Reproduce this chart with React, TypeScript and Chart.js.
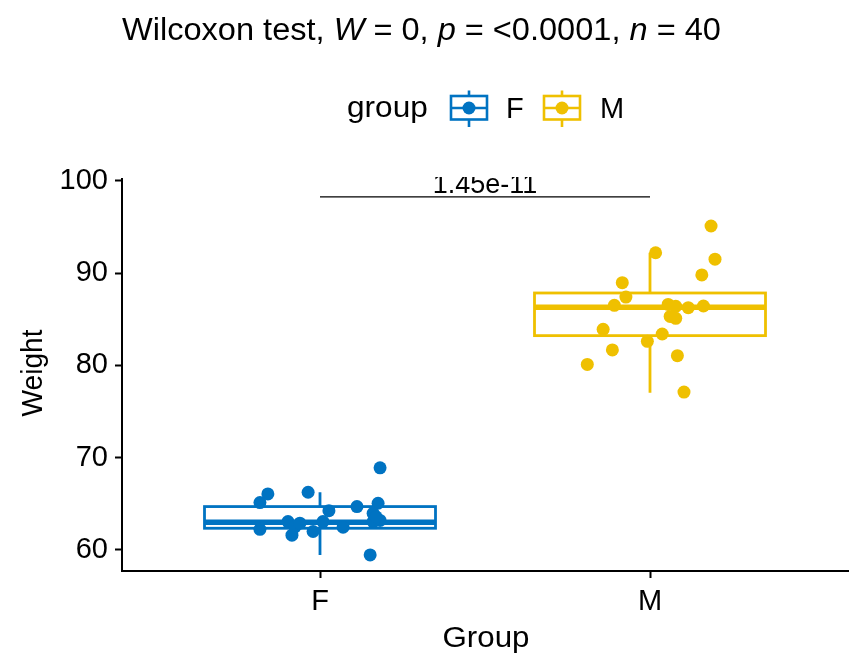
import React, { useEffect, useRef } from "react";
import { Chart, registerables } from "chart.js";
Chart.register(...registerables);

const FONT = '"Liberation Sans", Arial, Helvetica, sans-serif';

const categories = ["F", "M"];
const groupColors = ["#0073C2", "#EFC000"];

const fWeights = [66.07, 65.13, 66.25, 68.9, 64.26, 64.7, 65.06, 63.97, 63.2, 63.07, 63.07, 62.24, 61.6, 62.5, 62.0, 63.07, 62.46, 59.46, 62.9, 63.6];
const fJitter = [-0.158, -0.182, -0.036, 0.182, 0.027, 0.112, 0.176, 0.161, 0.182, 0.161, -0.097, -0.182, -0.085, -0.076, -0.021, 0.009, 0.07, 0.152, -0.061, 0.17];
const mWeights = [95.1, 92.2, 91.5, 89.8, 88.96, 87.4, 86.5, 86.6, 86.4, 86.25, 86.43, 85.3, 85.1, 83.9, 83.4, 82.6, 81.67, 81.05, 80.1, 77.1];
const mJitter = [0.185, 0.017, 0.197, 0.157, -0.084, -0.073, -0.108, 0.055, 0.078, 0.116, 0.162, 0.061, 0.078, -0.142, 0.037, -0.008, -0.114, 0.083, -0.19, 0.103];

const boxLowerWhisker = [59.46, 77.04];
const boxQ1 = [62.35, 83.22];
const boxMedian = [63.0, 86.3];
const boxQ3 = [64.7, 87.84];
const boxUpperWhisker = [66.25, 92.2];

const yTicks = [60, 70, 80, 90, 100];
const yMin = 57.72;
const yMax = 100.19;
const pLabel = "1.45e-11";
const bracketY = 98.25;
const titleParts: [string, boolean][] = [
  ["Wilcoxon test, ", false],
  ["W", true],
  [" = 0, ", false],
  ["p", true],
  [" = <0.0001, ", false],
  ["n", true],
  [" = 40", false],
];
const legendTitle = "group";
const xTitle = "Group";
const yTitle = "Weight";

function stretchedText(ctx: any, s: string, x: number, y: number, sx: number, align: "left" | "center") {
  ctx.save();
  ctx.translate(x, y);
  ctx.scale(sx, 1);
  ctx.textAlign = align;
  ctx.fillText(s, 0, 0);
  ctx.restore();
}

const overlayPlugin = {
  id: "overlay",
  beforeDatasetsDraw(chart: any) {
    const { ctx, scales } = chart;
    const x = scales.x, y = scales.y;
    categories.forEach((_c, i) => {
      const cx = x.getPixelForValue(i + 1);
      const left = x.getPixelForValue(i + 1 - 0.35);
      const right = x.getPixelForValue(i + 1 + 0.35);
      const top = y.getPixelForValue(boxQ3[i]);
      const bot = y.getPixelForValue(boxQ1[i]);
      ctx.save();
      ctx.strokeStyle = groupColors[i];
      ctx.lineWidth = 2.8;
      ctx.beginPath();
      ctx.moveTo(cx, top);
      ctx.lineTo(cx, y.getPixelForValue(boxUpperWhisker[i]));
      ctx.moveTo(cx, bot);
      ctx.lineTo(cx, y.getPixelForValue(boxLowerWhisker[i]));
      ctx.stroke();
      ctx.fillStyle = "#ffffff";
      ctx.fillRect(left, top, right - left, bot - top);
      ctx.strokeRect(left, top, right - left, bot - top);
      const my = y.getPixelForValue(boxMedian[i]);
      ctx.lineWidth = 5.4;
      ctx.beginPath();
      ctx.moveTo(left, my);
      ctx.lineTo(right, my);
      ctx.stroke();
      ctx.restore();
    });
  },
  afterDraw(chart: any) {
    const { ctx, scales, chartArea } = chart;
    const x = scales.x, y = scales.y;
    ctx.save();
    // bracket
    const by = y.getPixelForValue(bracketY);
    ctx.strokeStyle = "#000";
    ctx.lineWidth = 1.4;
    ctx.beginPath();
    ctx.moveTo(x.getPixelForValue(1), by);
    ctx.lineTo(x.getPixelForValue(2), by);
    ctx.stroke();
    ctx.save();
    ctx.beginPath();
    ctx.rect(0, chartArea.top - 2, chart.width, chart.height);
    ctx.clip();
    ctx.fillStyle = "#000";
    ctx.font = `27px ${FONT}`;
    ctx.textAlign = "center";
    ctx.textBaseline = "alphabetic";
    ctx.fillText(pLabel, x.getPixelForValue(1.5), by - 4);
    ctx.restore();

    // title
    ctx.fillStyle = "#000";
    ctx.textAlign = "left";
    ctx.textBaseline = "alphabetic";
    const tsx = 1.05;
    let tx = chartArea.left;
    titleParts.forEach(([s, it]) => {
      ctx.font = `${it ? "italic " : ""}31px ${FONT}`;
      stretchedText(ctx, s, tx, 39.5, tsx, "left");
      tx += ctx.measureText(s).width * tsx;
    });

    // legend
    ctx.font = `29px ${FONT}`;
    stretchedText(ctx, legendTitle, 347, 117, 1.09, "left");
    const icons = [451, 544];
    const labelsX = [506, 600];
    categories.forEach((c, i) => {
      const ix = icons[i];
      const w = 36;
      const cx = ix + w / 2;
      const cy = 108;
      ctx.strokeStyle = groupColors[i];
      ctx.lineWidth = 2.6;
      ctx.beginPath();
      ctx.moveTo(cx, 90.5);
      ctx.lineTo(cx, 96);
      ctx.moveTo(cx, 119.5);
      ctx.lineTo(cx, 127);
      ctx.moveTo(ix, cy);
      ctx.lineTo(ix + w, cy);
      ctx.stroke();
      ctx.strokeRect(ix, 96, w, 23.5);
      ctx.fillStyle = groupColors[i];
      ctx.beginPath();
      ctx.arc(cx, cy, 6.5, 0, Math.PI * 2);
      ctx.fill();
      ctx.fillStyle = "#000";
      ctx.font = `29px ${FONT}`;
      stretchedText(ctx, c, labelsX[i], 118, 1.0, "left");
    });

    // axis titles
    ctx.font = `29px ${FONT}`;
    stretchedText(ctx, xTitle, 486, 647, 1.08, "center");
    ctx.translate(42, 373);
    ctx.rotate(-Math.PI / 2);
    ctx.scale(0.97, 1);
    ctx.textAlign = "center";
    ctx.fillText(yTitle, 0, 0);
    ctx.restore();
  },
};

export default function App() {
  const ref = useRef<HTMLCanvasElement | null>(null);
  useEffect(() => {
    if (!ref.current) return;
    const chart = new Chart(ref.current, {
      type: "scatter",
      data: {
        datasets: [
          {
            label: categories[0],
            data: fWeights.map((v, i) => ({ x: 1 + fJitter[i], y: v })),
            backgroundColor: groupColors[0],
            borderColor: groupColors[0],
            borderWidth: 0,
            pointRadius: 6.5,
          },
          {
            label: categories[1],
            data: mWeights.map((v, i) => ({ x: 2 + mJitter[i], y: v })),
            backgroundColor: groupColors[1],
            borderColor: groupColors[1],
            borderWidth: 0,
            pointRadius: 6.5,
          },
        ],
      },
      options: {
        responsive: false,
        animation: false,
        events: [],
        layout: { padding: { top: 179, right: 16, bottom: 0, left: 0 } },
        plugins: { legend: { display: false }, tooltip: { enabled: false }, title: { display: false } },
        scales: {
          x: {
            type: "linear",
            min: 0.4,
            max: 2.6,
            afterBuildTicks: (s: any) => {
              s.ticks = categories.map((_c, i) => ({ value: i + 1 }));
            },
            afterFit: (s: any) => {
              s.height = 101;
            },
            ticks: {
              callback: (v: any) => categories[Math.round(Number(v)) - 1] ?? "",
              color: "#000",
              font: { family: FONT, size: 29 },
              padding: 7,
              maxRotation: 0,
              autoSkip: false,
            },
            grid: { drawOnChartArea: false, drawTicks: true, tickLength: 7, tickColor: "#000", tickWidth: 2 },
            border: { display: true, color: "#000", width: 2 },
          },
          y: {
            type: "linear",
            min: yMin,
            max: yMax,
            afterBuildTicks: (s: any) => {
              s.ticks = yTicks.map((v) => ({ value: v }));
            },
            afterFit: (s: any) => {
              s.width = 122;
            },
            ticks: {
              color: "#000",
              font: { family: FONT, size: 29 },
              padding: 7,
              autoSkip: false,
            },
            grid: { drawOnChartArea: false, drawTicks: true, tickLength: 7, tickColor: "#000", tickWidth: 2 },
            border: { display: true, color: "#000", width: 2 },
          },
        },
      },
      plugins: [overlayPlugin],
    } as any);
    return () => chart.destroy();
  }, []);
  return (
    <div style={{ position: "absolute", left: 0, top: 0, width: 864, height: 672, background: "#fff" }}>
      <canvas ref={ref} width={864} height={672} style={{ width: 864, height: 672, display: "block" }} />
    </div>
  );
}
